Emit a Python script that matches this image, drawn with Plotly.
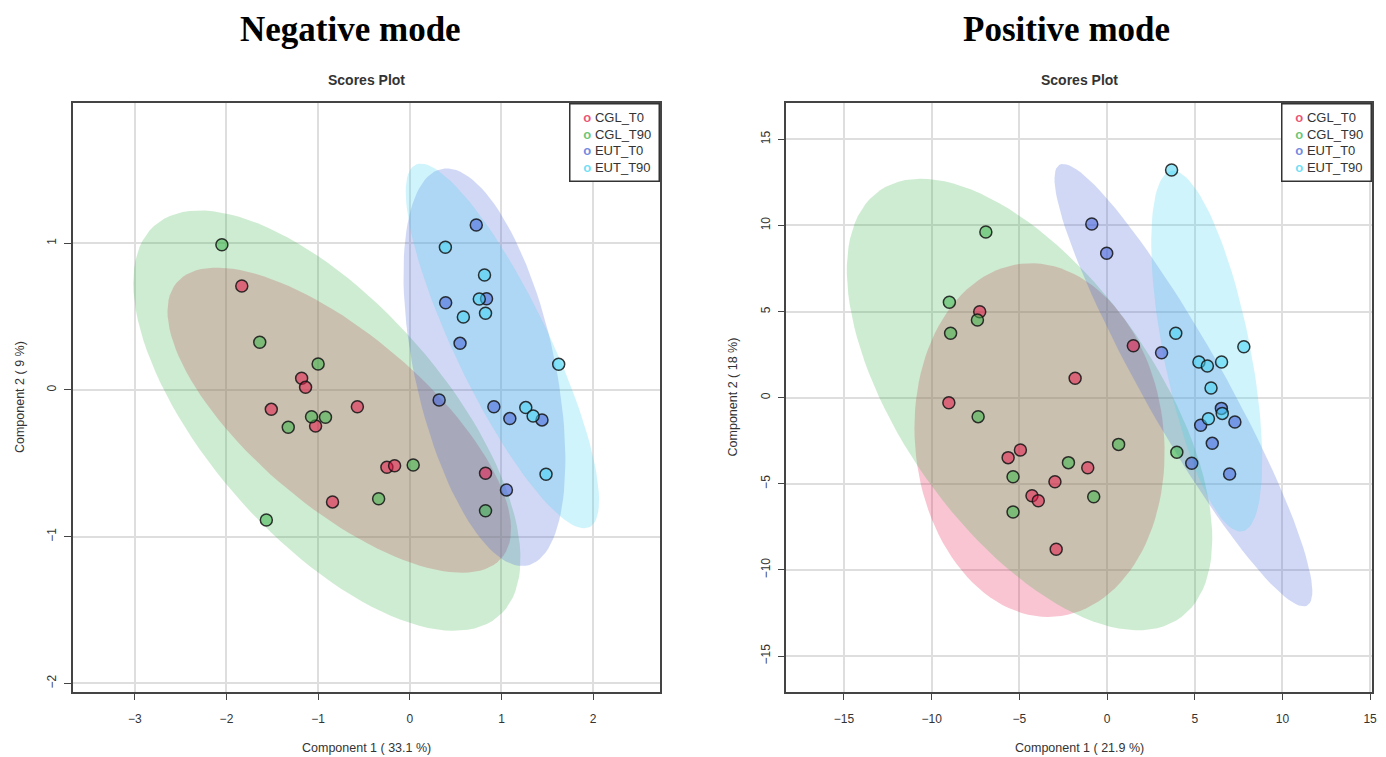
import numpy as np
import plotly.graph_objects as go

# ---------------- data ----------------
groups = ["CGL_T0", "CGL_T90", "EUT_T0", "EUT_T90"]
group_colors = ["#e6194b", "#3cb44b", "#4363d8", "#42d4f4"]

# Negative mode scores
neg_cgl_t0_x = [-1.833, -1.18, -1.137, -1.511, -1.028, -0.572, -0.25, -0.166, -0.843, 0.826]
neg_cgl_t0_y = [0.709, 0.080, 0.018, -0.132, -0.245, -0.114, -0.527, -0.516, -0.763, -0.568]
neg_cgl_t90_x = [-2.05, -1.637, -1.0, -1.072, -0.92, -1.326, -1.565, -0.34, 0.037, 0.826]
neg_cgl_t90_y = [0.99, 0.325, 0.177, -0.182, -0.186, -0.254, -0.886, -0.741, -0.511, -0.823]
neg_eut_t0_x = [0.725, 0.391, 0.837, 0.548, 0.32, 0.917, 1.091, 1.442, 1.054]
neg_eut_t0_y = [1.125, 0.595, 0.622, 0.318, -0.068, -0.114, -0.195, -0.204, -0.682]
neg_eut_t90_x = [0.388, 0.815, 0.758, 0.826, 0.584, 1.624, 1.265, 1.345, 1.486]
neg_eut_t90_y = [0.973, 0.784, 0.620, 0.523, 0.498, 0.175, -0.120, -0.177, -0.575]

# Positive mode scores
pos_cgl_t0_x = [-7.26, -1.82, -9.02, -4.94, -5.64, -1.10, -2.97, -4.28, -3.92, -2.90, 1.50]
pos_cgl_t0_y = [4.99, 1.13, -0.29, -3.04, -3.48, -4.07, -4.88, -5.69, -5.98, -8.80, 3.02]
pos_cgl_t90_x = [-6.91, -8.99, -7.39, -8.92, -7.35, -2.20, -5.36, -0.76, -5.36, 0.66, 3.98]
pos_cgl_t90_y = [9.62, 5.54, 4.51, 3.74, -1.10, -3.77, -4.59, -5.75, -6.64, -2.71, -3.17]
pos_eut_t0_x = [-0.87, -0.02, 3.11, 5.34, 7.29, 6.0, 4.83, 6.99, 6.52]
pos_eut_t0_y = [10.09, 8.39, 2.61, -1.60, -1.41, -2.65, -3.81, -4.43, -0.62]
pos_eut_t90_x = [3.68, 3.92, 7.80, 5.24, 5.72, 6.53, 5.93, 6.57, 5.78]
pos_eut_t90_y = [13.22, 3.74, 2.96, 2.07, 1.84, 2.07, 0.56, -0.91, -1.22]

neg_x_ticks = [-3, -2, -1, 0, 1, 2]
neg_y_ticks = [-2, -1, 0, 1]
pos_x_ticks = [-15, -10, -5, 0, 5, 10, 15]
pos_y_ticks = [-15, -10, -5, 0, 5, 10, 15]

neg_x_title = "Component 1 ( 33.1 %)"
neg_y_title = "Component 2 ( 9 %)"
pos_x_title = "Component 1 ( 21.9 %)"
pos_y_title = "Component 2 ( 18 %)"

neg_sets = [(neg_cgl_t0_x, neg_cgl_t0_y), (neg_cgl_t90_x, neg_cgl_t90_y),
            (neg_eut_t0_x, neg_eut_t0_y), (neg_eut_t90_x, neg_eut_t90_y)]
pos_sets = [(pos_cgl_t0_x, pos_cgl_t0_y), (pos_cgl_t90_x, pos_cgl_t90_y),
            (pos_eut_t0_x, pos_eut_t0_y), (pos_eut_t90_x, pos_eut_t90_y)]


def rgba(hexcol, a):
    h = hexcol.lstrip("#")
    r, g, b = int(h[0:2], 16), int(h[2:4], 16), int(h[4:6], 16)
    return f"rgba({r},{g},{b},{a})"


def conf_ellipse(xs, ys, level=0.95, npts=120):
    """95% confidence ellipse like R's ellipse::ellipse(cov, centre, level)."""
    xs = np.asarray(xs, float)
    ys = np.asarray(ys, float)
    cov = np.cov(np.vstack([xs, ys]), ddof=1)
    sx, sy = np.sqrt(cov[0, 0]), np.sqrt(cov[1, 1])
    r = cov[0, 1] / (sx * sy)
    d = np.arccos(r)
    t = np.sqrt(-2.0 * np.log(1.0 - level))  # qchisq(level, 2)
    a = np.linspace(0, 2 * np.pi, npts)
    ex = t * sx * np.cos(a + d / 2) + xs.mean()
    ey = t * sy * np.cos(a - d / 2) + ys.mean()
    return ex, ey


fig = go.Figure()

panels = [("x", "y", neg_sets), ("x2", "y2", pos_sets)]
for xa, ya, sets in panels:
    # ellipses
    for (xs, ys), col in zip(sets, group_colors):
        ex, ey = conf_ellipse(xs, ys)
        fig.add_trace(go.Scatter(x=ex, y=ey, xaxis=xa, yaxis=ya, mode="lines",
                                 fill="toself", fillcolor=rgba(col, 0.25),
                                 line=dict(width=0), hoverinfo="skip",
                                 showlegend=False))
    # points
    for (xs, ys), col, name in zip(sets, group_colors, groups):
        fig.add_trace(go.Scatter(x=xs, y=ys, xaxis=xa, yaxis=ya, mode="markers",
                                 name=name, showlegend=False,
                                 marker=dict(size=12, color=rgba(col, 0.55),
                                             line=dict(color="rgba(20,20,20,0.85)", width=1.5))))

W, H = 1386, 757
L1, R1 = 73 / W, 662 / W
L2, R2 = 789.3 / W, 1377 / W
B, T = 1 - 691.7 / H, 1 - 102.5 / H

SANS = "Liberation Sans, Arial, sans-serif"
axis_common = dict(showgrid=True, gridcolor="#dedede", gridwidth=1.5, zeroline=False,
                   showline=True, linecolor="#444", linewidth=1.5, mirror=True,
                   ticks="outside", ticklen=7, tickwidth=1, tickcolor="#444",
                   tickfont=dict(family=SANS, size=12, color="#333"),
                   tickmode="array")

fig.update_layout(
    width=W, height=H,
    margin=dict(l=0, r=0, t=0, b=0),
    paper_bgcolor="white", plot_bgcolor="white",
    font=dict(family=SANS, color="#333"),
    showlegend=False,
    xaxis=dict(domain=[L1, R1], range=[-3.677, 2.725], tickvals=neg_x_ticks,
               ticklabelstandoff=8, anchor="y", **axis_common),
    yaxis=dict(domain=[B, T], range=[-2.057, 1.960], tickvals=neg_y_ticks,
               tickangle=-90, ticklabelstandoff=3, anchor="x", **axis_common),
    xaxis2=dict(domain=[L2, R2], range=[-18.28, 15.11], tickvals=pos_x_ticks,
                ticklabelstandoff=8, anchor="y2", **axis_common),
    yaxis2=dict(domain=[B, T], range=[-17.07, 17.14], tickvals=pos_y_ticks,
                tickangle=-90, ticklabelstandoff=3, anchor="x2", **axis_common),
)

# R-style legend box (open circle glyphs + group names)
legend_text = "<br>".join(
    f"&nbsp;&nbsp;&nbsp;<span style='color:{rgba(c, 0.75)}'><b>o</b></span>&nbsp;{g}"
    for c, g in zip(group_colors, groups))

annos = [
    dict(text="<b>Negative mode</b>", x=352 / W, y=1 - 29 / H,
         font=dict(family="Liberation Serif, Times New Roman, serif", size=35, color="black")),
    dict(text="<b>Positive mode</b>", x=1070 / W, y=1 - 29 / H,
         font=dict(family="Liberation Serif, Times New Roman, serif", size=35, color="black")),
    dict(text="<b>Scores Plot</b>", x=(L1 + R1) / 2, y=1 - 80 / H,
         font=dict(size=14, color="#333")),
    dict(text="<b>Scores Plot</b>", x=(L2 + R2) / 2, y=1 - 80 / H,
         font=dict(size=14, color="#333")),
    dict(text=neg_x_title, x=(L1 + R1) / 2, y=1 - 748 / H, font=dict(size=12.5, color="#333")),
    dict(text=pos_x_title, x=(L2 + R2) / 2, y=1 - 748 / H, font=dict(size=12.5, color="#333")),
    dict(text=neg_y_title, x=20 / W, y=(B + T) / 2, textangle=-90, font=dict(size=12.5, color="#333")),
    dict(text=pos_y_title, x=736 / W, y=(B + T) / 2, textangle=-90, font=dict(size=12.5, color="#333")),
]
for a in annos:
    fig.add_annotation(xref="paper", yref="paper", showarrow=False,
                       xanchor="center", yanchor="middle", **a)

for xr in (R1, R2):
    fig.add_annotation(xref="paper", yref="paper", showarrow=False,
                       x=xr, y=T, xanchor="right", yanchor="top",
                       text=legend_text, align="left", valign="middle",
                       width=84, height=72, borderpad=2,
                       bgcolor="white", bordercolor="#333", borderwidth=1.5,
                       font=dict(family=SANS, size=13, color="#333"))

fig.write_html("out.html", config={"displayModeBar": False},
               post_script="document.body.style.margin='0';document.body.style.padding='0';")
